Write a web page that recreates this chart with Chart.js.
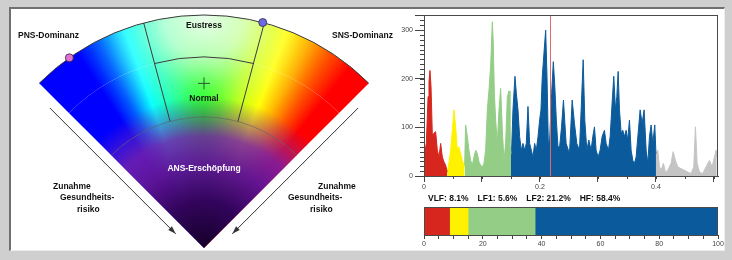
<!DOCTYPE html>
<html>
<head>
<meta charset="utf-8">
<script src="https://cdn.jsdelivr.net/npm/chart.js@4.4.1/dist/chart.umd.min.js"></script>
<style>
  html, body { margin: 0; padding: 0; }
  body { width: 732px; height: 260px; background: #cfcfcf; position: relative; overflow: hidden; }
  #panel { position: absolute; left: 9px; top: 7px; width: 713px; height: 241px; background: #fff;
           border-top: 2px solid #707070; border-left: 2px solid #707070;
           border-right: 1px solid #ececec; border-bottom: 1px solid #ececec; }
  canvas { position: absolute; }
  #fan { left: 0; top: 0; width: 400px; height: 260px; }
  #spectrum { left: 390px; top: 0; width: 342px; height: 192px; }
  #bands { left: 390px; top: 190px; width: 342px; height: 70px; }
</style>
</head>
<body>
<div id="panel"></div>
<canvas id="fan" width="400" height="260"></canvas>
<canvas id="spectrum" width="342" height="192"></canvas>
<canvas id="bands" width="342" height="70"></canvas>

<script>
// ---- fan (autonomic balance) ----
const zoneSpan = [30, 30, 30];
const coreSpan = [90];
const outerZones = ["PNS-Dominanz", "Eustress", "SNS-Dominanz"];
const innerZones = ["", "Normal", ""];
const coreZone = ["ANS-Erschöpfung"];
const riskLabel = ["Zunahme", "Gesundheits-", "risiko"];
// markers on the rim, degrees from vertical
const markerAngles = [-35.3, 14.6];
const markerColors = ["#e272d2", "#6b6be8"];

// ---- power spectrum ----
const freq = [
  0.001, 0.004, 0.007, 0.0086, 0.0103, 0.0121, 0.0144, 0.0172, 0.0201, 0.023, 0.0259, 0.0287, 0.0316, 0.0345, 0.0374, 0.04,
  0.042, 0.046, 0.0489, 0.0517, 0.0546, 0.0575, 0.0603, 0.0632, 0.0661, 0.07,
  0.0718, 0.0747, 0.0776, 0.0805, 0.0833, 0.0862, 0.0891, 0.092, 0.0948, 0.0977, 0.1006, 0.1034, 0.1063, 0.1092, 0.1121,
  0.1149, 0.1178, 0.1195, 0.1213, 0.1236, 0.1264, 0.1293, 0.1322, 0.1351, 0.1379, 0.1408, 0.1437, 0.1466, 0.1483, 0.15,
  0.1511, 0.1534, 0.1569, 0.1592, 0.1621, 0.1649, 0.1678, 0.1707, 0.1736, 0.1764, 0.1793, 0.1822, 0.1851, 0.1879, 0.1908,
  0.1937, 0.1966, 0.1994, 0.2017, 0.204, 0.2069, 0.2098, 0.2121, 0.2144, 0.2167, 0.2201, 0.223, 0.2253, 0.2282, 0.231,
  0.2339, 0.2371, 0.2405, 0.2451, 0.2509, 0.2555, 0.2595, 0.2635, 0.2681, 0.271, 0.2745, 0.2773, 0.2808, 0.2842, 0.2882,
  0.2911, 0.294, 0.2968, 0.3003, 0.3037, 0.3072, 0.3112, 0.3141, 0.3181, 0.321, 0.3244, 0.3273, 0.3302, 0.3325, 0.3348,
  0.3371, 0.34, 0.3428, 0.3457, 0.3486, 0.3514, 0.3543, 0.3572, 0.3601, 0.3629, 0.3658, 0.3693, 0.3727, 0.3762, 0.3796,
  0.3831, 0.386, 0.3888, 0.3917, 0.3946, 0.398, 0.4,
  0.4032, 0.406, 0.4089, 0.4129, 0.4164, 0.4204, 0.4261, 0.4296, 0.4336, 0.4376, 0.4434, 0.4491, 0.4549, 0.4606, 0.4652,
  0.4681, 0.471, 0.475, 0.4807, 0.4865, 0.4922, 0.4968, 0.5009, 0.5037, 0.5049
];
const power = [
  46, 67, 163, 194, 217, 184, 84, 88, 91, 53, 39, 67, 39, 29, 22, 8,
  19, 53, 94, 136, 101, 53, 60, 46, 32, 19,
  105, 81, 53, 32, 22, 39, 53, 46, 29, 22, 19, 26, 53, 136, 177,
  226, 317, 274, 170, 115, 67, 136, 180, 94, 32, 67, 163, 175, 67, 45,
  53, 136, 205, 170, 136, 81, 53, 67, 53, 67, 143, 67, 53, 39, 67,
  53, 81, 115, 136, 205, 253, 300, 205, 67, 74, 170, 235, 191, 115, 60,
  60, 100, 156, 67, 46, 156, 108, 67, 53, 136, 239, 115, 53, 74, 53,
  81, 101, 53, 39, 53, 81, 94, 67, 53, 81, 150, 205, 136, 163, 215,
  136, 88, 94, 81, 94, 74, 115, 53, 32, 26, 39, 88, 136, 108, 136,
  53, 26, 81, 105, 67, 105, 46,
  53, 19, 12, 26, 8, 12, 26, 50, 32, 19, 15, 12, 8, 5, 19,
  101, 26, 8, 5, 19, 32, 19, 39, 53, 40
];
const bandNames = ["VLF", "LF1", "LF2", "HF"];
const bandEdges = [0, 0.04, 0.07, 0.15, 0.4, 0.507];
const bandPct = [8.1, 5.6, 21.2, 58.4];
const barShare = [8.7, 6.3, 22.8, 62.2];
const cursorFreq = 0.218;
const freqLabels = [0, 0.2, 0.4];
const powerLabels = [0, 100, 200, 300];
const shareLabels = [0, 20, 40, 60, 80, 100];

const bandColors = ["#d7261e", "#fff200", "#93cd86", "#0b5b9c", "#c4c4c4"];
const FONT = '"Liberation Sans", Arial, sans-serif';
const hueStops = [
  [-45, "#0000ff"], [-33, "#0000ff"], [-27, "#0060ff"], [-20, "#00ffff"], [-12, "#00ff99"],
  [-4, "#00ff20"], [0, "#00ff00"], [6, "#40ff00"], [13, "#b0ff00"], [21, "#ffff00"],
  [27, "#ffb000"], [33, "#ff5000"], [39, "#ff0000"], [45, "#ff0000"]
];

function fanFill(c) {
  const chart = c.chart, a = chart.chartArea;
  const ctrl = chart.getDatasetMeta(c.datasetIndex).controller;
  if (!a || ctrl.offsetY === undefined) return "#00ff00";
  const cx = (a.left + a.right) / 2 + ctrl.offsetX;
  const cy = (a.top + a.bottom) / 2 + ctrl.offsetY;
  const g = chart.ctx.createConicGradient(-0.75 * Math.PI, cx, cy);
  hueStops.forEach(([deg, col]) => g.addColorStop((deg + 45) / 360, col));
  return g;
}

const fanDecor = {
  id: "fanDecor",
  afterDatasetsDraw(chart) {
    const ctx = chart.ctx;
    const outer = chart.getDatasetMeta(0).data;
    const middle = chart.getDatasetMeta(1).data;
    const cx = outer[0].x, cy = outer[0].y, R = outer[0].outerRadius;
    const a0 = outer[0].startAngle, a1 = outer[2].endAngle;
    const rCore = middle[0].innerRadius;

    ctx.save();
    ctx.beginPath();
    ctx.moveTo(cx, cy);
    ctx.arc(cx, cy, R, a0, a1);
    ctx.closePath();
    ctx.clip();
    // pale glow under the rim
    let g = ctx.createRadialGradient(cx, cy - R + 2, 0, cx, cy - R + 2, R * 0.5);
    g.addColorStop(0, "rgba(255,255,255,0.92)");
    g.addColorStop(0.35, "rgba(255,255,255,0.7)");
    g.addColorStop(0.6, "rgba(255,255,255,0.3)");
    g.addColorStop(0.85, "rgba(255,255,255,0.06)");
    g.addColorStop(1, "rgba(255,255,255,0)");
    ctx.fillStyle = g;
    ctx.fillRect(cx - R, cy - R, 2 * R, R);
    // exhaustion core
    g = ctx.createRadialGradient(cx, cy, 0, cx, cy, R);
    g.addColorStop(0, "rgba(22,0,40,1)");
    g.addColorStop(0.2, "rgba(50,4,92,1)");
    g.addColorStop(0.36, "rgba(95,20,150,0.97)");
    g.addColorStop(0.48, "rgba(118,32,170,0.85)");
    g.addColorStop(0.56, "rgba(122,40,170,0.45)");
    g.addColorStop(0.65, "rgba(122,40,170,0)");
    ctx.fillStyle = g;
    ctx.fillRect(cx - R, cy - R, 2 * R, R);
    ctx.restore();

    ctx.save();
    ctx.lineWidth = 1;
    ctx.strokeStyle = "rgba(70,70,70,0.45)";
    ctx.beginPath();
    ctx.arc(cx, cy, rCore, a0, a1);
    ctx.stroke();
    ctx.strokeStyle = "#3a3a3a";
    ctx.beginPath();
    ctx.arc(cx, cy, R, a0, a1);
    ctx.stroke();
    [outer[1].startAngle, outer[1].endAngle].forEach(a => {
      ctx.beginPath();
      ctx.moveTo(cx + rCore * Math.cos(a), cy + rCore * Math.sin(a));
      ctx.lineTo(cx + R * Math.cos(a), cy + R * Math.sin(a));
      ctx.stroke();
    });
    ctx.beginPath();
    ctx.arc(cx, cy, outer[1].innerRadius, outer[1].startAngle, outer[1].endAngle);
    ctx.stroke();

    // crosshair in the normal zone
    const rN = middle[1].innerRadius + 0.56 * (middle[1].outerRadius - middle[1].innerRadius);
    ctx.strokeStyle = "#2f5a2f";
    ctx.beginPath();
    ctx.moveTo(cx - 6, cy - rN); ctx.lineTo(cx + 6, cy - rN);
    ctx.moveTo(cx, cy - rN - 6); ctx.lineTo(cx, cy - rN + 6);
    ctx.stroke();

    // risk arrows along both edges
    const arrow = (edge, side) => {
      const ux = Math.cos(edge), uy = Math.sin(edge);
      const nx = Math.cos(edge + side * Math.PI / 2), ny = Math.sin(edge + side * Math.PI / 2);
      const x1 = cx + ux * 208 + nx * 10, y1 = cy + uy * 208 + ny * 10;
      const x2 = cx + ux * 30 + nx * 10, y2 = cy + uy * 30 + ny * 10;
      ctx.strokeStyle = "#333";
      ctx.beginPath(); ctx.moveTo(x1, y1); ctx.lineTo(x2, y2); ctx.stroke();
      ctx.fillStyle = "#333";
      ctx.beginPath();
      ctx.moveTo(x2, y2);
      ctx.lineTo(x2 + ux * 8 + nx * 2.6, y2 + uy * 8 + ny * 2.6);
      ctx.lineTo(x2 + ux * 8 - nx * 2.6, y2 + uy * 8 - ny * 2.6);
      ctx.closePath(); ctx.fill();
    };
    arrow(a0, -1);
    arrow(a1, 1);

    // state markers on the rim
    markerAngles.forEach((deg, i) => {
      const a = -Math.PI / 2 + deg * Math.PI / 180;
      ctx.beginPath();
      ctx.arc(cx + R * Math.cos(a), cy + R * Math.sin(a), 4, 0, 2 * Math.PI);
      ctx.fillStyle = markerColors[i];
      ctx.fill();
      ctx.strokeStyle = "rgba(50,40,60,0.8)";
      ctx.stroke();
    });

    // labels
    ctx.font = "bold 8.5px " + FONT;
    ctx.textBaseline = "middle";
    ctx.fillStyle = "#111";
    const put = (t, dx, dy, align) => { ctx.textAlign = align; ctx.fillText(t, cx + dx, cy + dy); };
    put(outerZones[0], -186, -212, "left");
    put(outerZones[1], 0, -222, "center");
    put(outerZones[2], 128, -212, "left");
    put(innerZones[1], 0, -149, "center");
    put(riskLabel[0], -151, -61, "left");
    put(riskLabel[1], -144, -50, "left");
    put(riskLabel[2], -127, -38, "left");
    put(riskLabel[0], 114, -61, "left");
    put(riskLabel[1], 84, -50, "left");
    put(riskLabel[2], 106, -38, "left");
    ctx.fillStyle = "#fff";
    put(coreZone[0], 0, -79, "center");
    ctx.restore();
  }
};

new Chart(document.getElementById("fan"), {
  type: "doughnut",
  data: {
    labels: outerZones,
    datasets: [
      { data: zoneSpan, weight: 42, backgroundColor: fanFill, borderWidth: 0, hoverBorderWidth: 0 },
      { data: zoneSpan, weight: 60, backgroundColor: fanFill, borderWidth: 0, hoverBorderWidth: 0 },
      { data: coreSpan, weight: 131, backgroundColor: fanFill, borderWidth: 0, hoverBorderWidth: 0 }
    ]
  },
  options: {
    responsive: false,
    animation: false,
    events: [],
    rotation: -45,
    circumference: 90,
    cutout: 0,
    layout: { padding: { left: 39, right: 31, top: 15, bottom: 12 } },
    plugins: { legend: { display: false }, tooltip: { enabled: false } }
  },
  plugins: [fanDecor]
});

// minor tick marks drawn from the chart's own scales
const minorTicks = {
  id: "minorTicks",
  afterDraw(chart, args, opts) {
    const ctx = chart.ctx;
    ctx.save();
    ctx.strokeStyle = "#444";
    ctx.lineWidth = 1;
    (opts.list || []).forEach(({ axis, step, len }) => {
      const s = chart.scales[axis];
      for (let v = s.min; v <= s.max + 1e-9; v += step) {
        const p = Math.round(s.getPixelForValue(v)) + 0.5;
        ctx.beginPath();
        if (s.isHorizontal()) { ctx.moveTo(p, s.top); ctx.lineTo(p, s.top + len); }
        else { ctx.moveTo(s.right - len, p); ctx.lineTo(s.right, p); }
        ctx.stroke();
      }
    });
    ctx.restore();
  }
};

const plotFrame = {
  id: "plotFrame",
  afterDatasetsDraw(chart, args, opts) {
    const { ctx, chartArea: a } = chart;
    ctx.save();
    if (opts.cursor !== undefined) {
      const x = Math.round(chart.scales.x.getPixelForValue(opts.cursor)) + 0.5;
      ctx.strokeStyle = "#e06a6a";
      ctx.beginPath(); ctx.moveTo(x, a.top); ctx.lineTo(x, a.bottom); ctx.stroke();
    }
    ctx.strokeStyle = "#4a4a4a";
    ctx.strokeRect(Math.round(a.left) + 0.5, Math.round(a.top) + 0.5,
                   Math.round(a.right - a.left) - 1, Math.round(a.bottom - a.top));
    ctx.restore();
  }
};

const points = freq.map((f, i) => ({ x: f, y: power[i] }));
const tickFont = { family: FONT, size: 7 };

new Chart(document.getElementById("spectrum"), {
  type: "line",
  data: {
    datasets: bandColors.map((col, k) => ({
      data: points.filter(p => p.x >= bandEdges[k] && p.x <= bandEdges[k + 1]),
      backgroundColor: col,
      borderColor: col,
      borderWidth: 1,
      fill: "origin",
      pointRadius: 0,
      tension: 0
    }))
  },
  options: {
    responsive: false,
    animation: false,
    events: [],
    layout: { padding: { left: 0, right: 14, top: 15, bottom: 0 } },
    plugins: {
      legend: { display: false },
      tooltip: { enabled: false },
      minorTicks: { list: [{ axis: "x", step: 0.05, len: 3 }, { axis: "y", step: 10, len: 4 }] },
      plotFrame: { cursor: cursorFreq }
    },
    scales: {
      x: {
        type: "linear", min: 0, max: 0.507, bounds: "data",
        afterFit: s => { s.height = 16; },
        border: { color: "#444" },
        grid: { drawOnChartArea: false, tickLength: 6, color: "#444" },
        ticks: {
          stepSize: 0.1, includeBounds: false, autoSkip: false, maxRotation: 0, padding: 1,
          font: tickFont, color: "#444",
          callback: v => (freqLabels.some(l => Math.abs(l - v) < 1e-6) ? String(Math.round(v * 10) / 10) : "")
        }
      },
      y: {
        min: 0, max: 331, bounds: "data",
        afterFit: s => { s.width = 34; },
        border: { color: "#444" },
        grid: { drawOnChartArea: false, tickLength: 9, color: "#444" },
        ticks: {
          stepSize: 100, includeBounds: false, autoSkip: false, padding: 2,
          font: tickFont, color: "#444",
          callback: v => (powerLabels.includes(v) ? String(v) : "")
        }
      }
    }
  },
  plugins: [minorTicks, plotFrame]
});

const bandSummary = {
  id: "bandSummary",
  afterDraw(chart) {
    const { ctx, chartArea: a } = chart;
    ctx.save();
    ctx.font = "bold 8.5px " + FONT;
    ctx.fillStyle = "#111";
    ctx.textBaseline = "middle";
    let x = a.left + 4;
    bandNames.forEach((n, i) => {
      const t = n + ": " + bandPct[i] + "%";
      ctx.fillText(t, x, a.top - 8);
      x += ctx.measureText(t).width + 9;
    });
    ctx.restore();
  }
};

new Chart(document.getElementById("bands"), {
  type: "bar",
  data: {
    labels: ["Anteil"],
    datasets: bandNames.map((n, k) => ({
      label: n,
      data: [barShare[k]],
      backgroundColor: bandColors[k],
      borderWidth: 0,
      barPercentage: 1,
      categoryPercentage: 1
    }))
  },
  options: {
    responsive: false,
    animation: false,
    events: [],
    indexAxis: "y",
    layout: { padding: { left: 34, right: 14, top: 17, bottom: 0 } },
    plugins: { legend: { display: false }, tooltip: { enabled: false }, plotFrame: {} },
    scales: {
      x: {
        stacked: true, min: 0, max: 100,
        afterFit: s => { s.height = 25; },
        border: { color: "#444" },
        grid: { drawOnChartArea: false, tickLength: 4, color: "#444" },
        ticks: {
          stepSize: 5, autoSkip: false, maxRotation: 0, padding: 1,
          font: tickFont, color: "#444",
          callback: v => (shareLabels.includes(v) ? String(v) : "")
        }
      },
      y: { stacked: true, display: false }
    }
  },
  plugins: [plotFrame, bandSummary]
});
</script>
</body>
</html>
